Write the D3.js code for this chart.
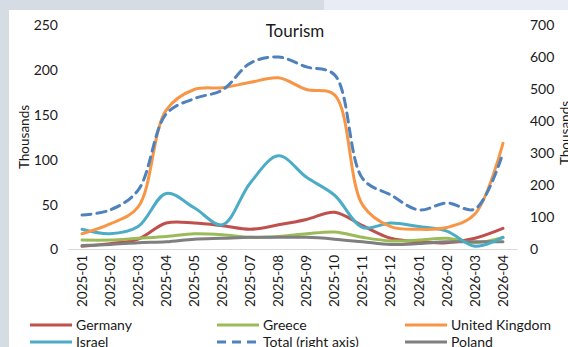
<!DOCTYPE html>
<html><head><meta charset="utf-8">
<script src="https://cdn.jsdelivr.net/npm/d3@7"></script>
<style>body{margin:0;overflow:hidden;background:#fff}svg{display:block}text{font-family:Lato,"Open Sans",sans-serif;fill:#1a1a1a}</style>
</head><body><svg id="c" width="568" height="347"></svg>
<script>
const months = ["2025-01","2025-02","2025-03","2025-04","2025-05","2025-06","2025-07","2025-08","2025-09","2025-10","2025-11","2025-12","2026-01","2026-02","2026-03","2026-04"];
const germany = [3,6,11,29,29,26,22,27,33,41,26,12,8,7,12,23];
const greece  = [10,10,12,14,17,16,13,14,17,19,13,9,10,12,7,13];
const uk      = [17,28,47,155,178,180,186,191,178,172,49,25,22,24,39,118];
const israel  = [22,17,25,62,46,27,74,104,80,60,24,29,25,20,3,13];
const poland  = [4,5,7,8,11,12,13,13,13,11,8,5,6,8,8,8];
const total   = [106,122,184,422,470,497,581,600,569,544,220,169,122,144,125,300];
const leftTicks = [0,50,100,150,200,250];
const rightTicks = [0,100,200,300,400,500,600,700];

const svg = d3.select("#c");
svg.append("rect").attr("width",568).attr("height",347).attr("fill","#fff");
svg.append("rect").attr("x",0).attr("y",0).attr("width",324).attr("height",10).attr("fill","#d6dce3");
svg.append("rect").attr("x",324).attr("y",0).attr("width",244).attr("height",10).attr("fill","#e8edf5");
svg.append("rect").attr("x",0).attr("y",0).attr("width",9).attr("height",347).attr("fill","#d6dce3");

const x = d3.scaleBand().domain(months).range([68,517]);
const yL = d3.scaleLinear().domain([0,250]).range([249,25]);
const yR = d3.scaleLinear().domain([0,700]).range([249,25]);
const cx = d => x(d) + x.bandwidth()/2;

// axes
const gL = svg.append("g").attr("transform","translate(58,0)")
  .call(d3.axisLeft(yL).tickValues(leftTicks).tickSize(0).tickPadding(0));
gL.select(".domain").remove();
gL.selectAll("text").style("font-size","14px").attr("dy","0.35em");

const gR = svg.append("g").attr("transform","translate(530,0)")
  .call(d3.axisRight(yR).tickValues(rightTicks).tickSize(0).tickPadding(0));
gR.select(".domain").remove();
gR.selectAll("text").style("font-size","14px").attr("dy","0.35em");

const gX = svg.append("g").attr("transform","translate(0,249)")
  .call(d3.axisBottom(x).tickSize(0).tickPadding(0));
gX.select(".domain").attr("stroke","#d9d9d9").attr("stroke-width",1);
gX.selectAll("text").style("font-size","13.5px")
  .attr("transform","rotate(-90)").attr("text-anchor","end")
  .attr("x",-6).attr("y",0).attr("dy","0.35em");

// titles
svg.append("text").attr("x",295).attr("y",37).attr("text-anchor","middle").style("font-size","17px").text("Tourism");
svg.append("text").attr("transform","translate(29,137) rotate(-90)").attr("text-anchor","middle").style("font-size","13.5px").text("Thousands");
svg.append("text").attr("transform","translate(570,133) rotate(-90)").attr("text-anchor","middle").style("font-size","13.5px").text("Thousands");

const series = [
  {name:"Germany", data:germany, color:"#c0504d", axis:yL},
  {name:"Greece", data:greece, color:"#9bbb59", axis:yL},
  {name:"Poland", data:poland, color:"#7f7f7f", axis:yL},
  {name:"Israel", data:israel, color:"#4bacc6", axis:yL},
  {name:"United Kingdom", data:uk, color:"#f79646", axis:yL},
  {name:"Total (right axis)", data:total, color:"#4f81bd", axis:yR, dash:"9,6"}
];
series.forEach(s => {
  const line = d3.line().x((d,i)=>cx(months[i])).y(d=>s.axis(d)).curve(d3.curveCatmullRom.alpha(0.5));
  svg.append("path").attr("d",line(s.data)).attr("fill","none")
    .attr("stroke",s.color).attr("stroke-width",3).attr("stroke-linecap","round")
    .attr("stroke-dasharray",s.dash||null);
});

// legend
const legend = [
  {name:"Germany", color:"#c0504d", x:30, y:325},
  {name:"Greece", color:"#9bbb59", x:217, y:325},
  {name:"United Kingdom", color:"#f79646", x:405, y:325},
  {name:"Israel", color:"#4bacc6", x:30, y:342},
  {name:"Total (right axis)", color:"#4f81bd", x:217, y:342, dash:"9,6"},
  {name:"Poland", color:"#7f7f7f", x:405, y:342}
];
legend.forEach(l => {
  svg.append("line").attr("x1",l.x).attr("x2",l.x+42).attr("y1",l.y).attr("y2",l.y)
    .attr("stroke",l.color).attr("stroke-width",3).attr("stroke-dasharray",l.dash||null);
  svg.append("text").attr("x",l.x+46).attr("y",l.y).attr("dy","0.35em").style("font-size","14px").text(l.name);
});
</script></body></html>
